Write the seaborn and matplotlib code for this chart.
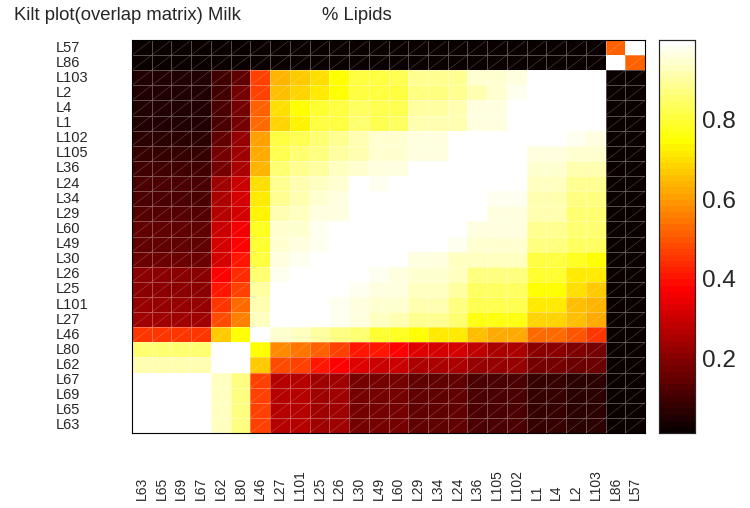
import matplotlib
matplotlib.use("Agg")
import matplotlib.pyplot as plt
import pandas as pd
import seaborn as sns

# row order (top to bottom) and column order (left to right)
row_labels = ['L57', 'L86', 'L103', 'L2', 'L4', 'L1', 'L102', 'L105', 'L36', 'L24',
              'L34', 'L29', 'L60', 'L49', 'L30', 'L26', 'L25', 'L101', 'L27', 'L46',
              'L80', 'L62', 'L67', 'L69', 'L65', 'L63']
col_labels = ['L63', 'L65', 'L69', 'L67', 'L62', 'L80', 'L46', 'L27', 'L101', 'L25',
              'L26', 'L30', 'L49', 'L60', 'L29', 'L34', 'L24', 'L36', 'L105', 'L102',
              'L1', 'L4', 'L2', 'L103', 'L86', 'L57']

# overlap values, one list per row (columns follow col_labels)
row_L57 = [0.02, 0.02, 0.02, 0.02, 0.02, 0.02, 0.02, 0.02, 0.02, 0.02, 0.02, 0.02, 0.02,
           0.02, 0.02, 0.02, 0.02, 0.02, 0.02, 0.02, 0.02, 0.02, 0.02, 0.02, 0.52, 1.00]
row_L86 = [0.02, 0.02, 0.02, 0.02, 0.02, 0.02, 0.02, 0.02, 0.02, 0.02, 0.02, 0.02, 0.02,
           0.02, 0.02, 0.02, 0.02, 0.02, 0.02, 0.02, 0.02, 0.02, 0.02, 0.02, 1.00, 0.52]
row_L103 = [0.05, 0.05, 0.05, 0.05, 0.10, 0.15, 0.46, 0.64, 0.67, 0.70, 0.75, 0.80, 0.80,
            0.82, 0.88, 0.88, 0.88, 0.94, 0.95, 0.96, 1.00, 1.00, 1.00, 1.00, 0.02, 0.02]
row_L2 = [0.05, 0.05, 0.05, 0.05, 0.10, 0.17, 0.47, 0.65, 0.68, 0.72, 0.75, 0.80, 0.80,
          0.80, 0.87, 0.87, 0.89, 0.92, 0.94, 0.97, 1.00, 1.00, 1.00, 1.00, 0.02, 0.02]
row_L4 = [0.055, 0.055, 0.055, 0.055, 0.12, 0.18, 0.51, 0.70, 0.74, 0.79, 0.81, 0.84, 0.83,
          0.83, 0.90, 0.90, 0.92, 0.96, 0.96, 1.00, 1.00, 1.00, 1.00, 1.00, 0.02, 0.02]
row_L1 = [0.055, 0.055, 0.055, 0.055, 0.12, 0.18, 0.53, 0.69, 0.73, 0.80, 0.81, 0.85, 0.83,
          0.84, 0.91, 0.91, 0.91, 0.96, 0.96, 1.00, 1.00, 1.00, 1.00, 1.00, 0.02, 0.02]
row_L102 = [0.07, 0.07, 0.07, 0.07, 0.15, 0.22, 0.61, 0.80, 0.83, 0.86, 0.89, 0.91, 0.94,
            0.94, 0.96, 0.96, 1.00, 1.00, 1.00, 1.00, 1.00, 1.00, 0.97, 0.96, 0.02, 0.02]
row_L105 = [0.075, 0.075, 0.075, 0.075, 0.17, 0.24, 0.62, 0.82, 0.85, 0.87, 0.90, 0.92, 0.95,
            0.95, 0.96, 0.96, 1.00, 1.00, 1.00, 1.00, 0.96, 0.96, 0.94, 0.94, 0.02, 0.02]
row_L36 = [0.09, 0.09, 0.09, 0.09, 0.18, 0.25, 0.63, 0.85, 0.88, 0.90, 0.93, 0.95, 0.96,
           0.96, 1.00, 1.00, 1.00, 1.00, 1.00, 1.00, 0.95, 0.95, 0.92, 0.92, 0.02, 0.02]
row_L24 = [0.11, 0.11, 0.11, 0.11, 0.24, 0.30, 0.70, 0.88, 0.91, 0.93, 0.95, 1.00, 0.97,
           1.00, 1.00, 1.00, 1.00, 1.00, 1.00, 1.00, 0.93, 0.93, 0.89, 0.89, 0.02, 0.02]
row_L34 = [0.12, 0.12, 0.12, 0.12, 0.25, 0.31, 0.72, 0.89, 0.92, 0.94, 0.96, 1.00, 1.00,
           1.00, 1.00, 1.00, 1.00, 1.00, 0.97, 0.97, 0.92, 0.92, 0.87, 0.87, 0.02, 0.02]
row_L29 = [0.125, 0.125, 0.125, 0.125, 0.27, 0.32, 0.73, 0.91, 0.93, 0.96, 0.96, 1.00, 1.00,
           1.00, 1.00, 1.00, 1.00, 1.00, 0.96, 0.96, 0.91, 0.91, 0.86, 0.86, 0.02, 0.02]
row_L60 = [0.145, 0.145, 0.145, 0.145, 0.30, 0.36, 0.78, 0.94, 0.95, 0.97, 1.00, 1.00, 1.00,
           1.00, 1.00, 1.00, 0.99, 0.96, 0.96, 0.96, 0.885, 0.885, 0.85, 0.85, 0.02, 0.02]
row_L49 = [0.15, 0.15, 0.15, 0.15, 0.31, 0.37, 0.79, 0.945, 0.96, 0.98, 1.00, 1.00, 1.00,
           1.00, 1.00, 1.00, 0.975, 0.945, 0.945, 0.945, 0.875, 0.875, 0.835, 0.835, 0.02, 0.02]
row_L30 = [0.165, 0.165, 0.165, 0.165, 0.32, 0.40, 0.80, 0.965, 0.98, 1.00, 1.00, 1.00, 1.00,
           1.00, 0.965, 0.965, 0.935, 0.935, 0.935, 0.935, 0.81, 0.81, 0.77, 0.75, 0.02, 0.02]
row_L26 = [0.20, 0.20, 0.20, 0.20, 0.37, 0.43, 0.86, 0.975, 1.00, 1.00, 1.00, 1.00, 0.975,
           0.965, 0.945, 0.945, 0.925, 0.865, 0.865, 0.865, 0.79, 0.79, 0.71, 0.71, 0.02, 0.02]
row_L25 = [0.21, 0.21, 0.21, 0.21, 0.40, 0.47, 0.895, 1.00, 1.00, 1.00, 1.00, 0.98, 0.965,
           0.955, 0.925, 0.925, 0.905, 0.836, 0.836, 0.836, 0.74, 0.74, 0.70, 0.67, 0.02, 0.02]
row_L101 = [0.225, 0.225, 0.225, 0.225, 0.45, 0.53, 0.915, 1.00, 1.00, 1.00, 0.975, 0.965, 0.95,
            0.945, 0.915, 0.915, 0.875, 0.816, 0.816, 0.816, 0.71, 0.71, 0.66, 0.64, 0.02, 0.02]
row_L27 = [0.24, 0.24, 0.24, 0.24, 0.49, 0.56, 0.925, 1.00, 1.00, 1.00, 0.975, 0.965, 0.935,
           0.915, 0.885, 0.885, 0.856, 0.76, 0.76, 0.76, 0.68, 0.68, 0.65, 0.62, 0.02, 0.02]
row_L46 = [0.445, 0.445, 0.445, 0.445, 0.67, 0.75, 1.00, 0.945, 0.925, 0.895, 0.875, 0.846, 0.79,
           0.77, 0.75, 0.71, 0.71, 0.65, 0.62, 0.62, 0.53, 0.53, 0.50, 0.455, 0.02, 0.02]
row_L80 = [0.85, 0.85, 0.85, 0.85, 1.00, 1.00, 0.75, 0.58, 0.55, 0.52, 0.47, 0.41, 0.40,
           0.37, 0.33, 0.31, 0.31, 0.28, 0.255, 0.255, 0.20, 0.20, 0.185, 0.17, 0.02, 0.02]
row_L62 = [0.915, 0.915, 0.915, 0.915, 1.00, 1.00, 0.67, 0.49, 0.46, 0.41, 0.37, 0.325, 0.30,
           0.295, 0.255, 0.255, 0.255, 0.225, 0.225, 0.225, 0.17, 0.17, 0.155, 0.155, 0.02, 0.02]
row_L67 = [1.00, 1.00, 1.00, 1.00, 0.935, 0.87, 0.46, 0.27, 0.27, 0.23, 0.23, 0.17, 0.17,
           0.17, 0.14, 0.14, 0.14, 0.11, 0.11, 0.11, 0.085, 0.085, 0.07, 0.07, 0.02, 0.02]
row_L69 = [1.00, 1.00, 1.00, 1.00, 0.935, 0.87, 0.46, 0.27, 0.27, 0.23, 0.23, 0.17, 0.17,
           0.17, 0.14, 0.14, 0.14, 0.11, 0.11, 0.11, 0.085, 0.085, 0.07, 0.07, 0.02, 0.02]
row_L65 = [1.00, 1.00, 1.00, 1.00, 0.935, 0.87, 0.46, 0.27, 0.27, 0.23, 0.23, 0.17, 0.17,
           0.17, 0.14, 0.14, 0.14, 0.11, 0.11, 0.11, 0.085, 0.085, 0.07, 0.07, 0.02, 0.02]
row_L63 = [1.00, 1.00, 1.00, 1.00, 0.935, 0.87, 0.46, 0.27, 0.27, 0.23, 0.23, 0.17, 0.17,
           0.17, 0.14, 0.14, 0.14, 0.11, 0.11, 0.11, 0.085, 0.085, 0.07, 0.07, 0.02, 0.02]

cbar_ticks = [0.2, 0.4, 0.6, 0.8]

sns.set_style("white")
plt.rcParams['font.family'] = ['Liberation Sans', 'DejaVu Sans']

rows = [row_L57, row_L86, row_L103, row_L2, row_L4, row_L1, row_L102, row_L105, row_L36,
        row_L24, row_L34, row_L29, row_L60, row_L49, row_L30, row_L26, row_L25, row_L101,
        row_L27, row_L46, row_L80, row_L62, row_L67, row_L69, row_L65, row_L63]
df = pd.DataFrame(rows, index=row_labels, columns=col_labels)

fig = plt.figure(figsize=(7.5, 5.08), dpi=100)
ax = fig.add_axes([132 / 750, 75 / 508, 513 / 750, 393 / 508])
cax = fig.add_axes([659 / 750, 75 / 508, 36 / 750, 393 / 508])

cmap = plt.get_cmap('hot').resampled(64)
sns.heatmap(df, ax=ax, cbar_ax=cax, cmap=cmap, vmin=0.012, vmax=1.0,
            linewidths=0.6, linecolor=(1, 1, 1, 0.3),
            xticklabels=True, yticklabels=True)

# faint diagonal mesh lines like the original render
n = len(col_labels)
for k in range(1, 2 * n):
    x0, x1 = max(0, k - n), min(n, k)
    ax.plot([x0, x1], [k - x0, k - x1], color=(1, 1, 1, 0.22), lw=0.5)
ax.set_xlim(0, n)
ax.set_ylim(n, 0)

for s in ax.spines.values():
    s.set_visible(True)
    s.set_color('black')
    s.set_linewidth(0.8)

ax.set_xlabel('')
ax.set_ylabel('')
ax.tick_params(axis='both', length=0)
ax.tick_params(axis='x', pad=48)
ax.tick_params(axis='y', pad=55)
ax.set_xticklabels(col_labels, rotation=90, fontsize=10)
ax.set_yticklabels(row_labels, rotation=0, fontsize=10.5)
for lab in ax.get_xticklabels():
    lab.set_va('bottom')
for lab in ax.get_yticklabels():
    lab.set_ha('left')

cax.set_yticks(cbar_ticks)
cax.set_yticklabels([f'{t:.1f}' for t in cbar_ticks])
cax.tick_params(labelsize=17.5, direction='in', length=4, width=0.8,
                left=True, right=True, pad=5)
for s in cax.spines.values():
    s.set_visible(True)
    s.set_linewidth(0.8)

fig.text(14 / 750, 1 - 15 / 508, 'Kilt plot(overlap matrix) Milk', fontsize=13.3,
         ha='left', va='center')
fig.text(322 / 750, 1 - 15 / 508, '% Lipids', fontsize=13.3, ha='left', va='center')

fig.savefig('out.png', dpi=100)
